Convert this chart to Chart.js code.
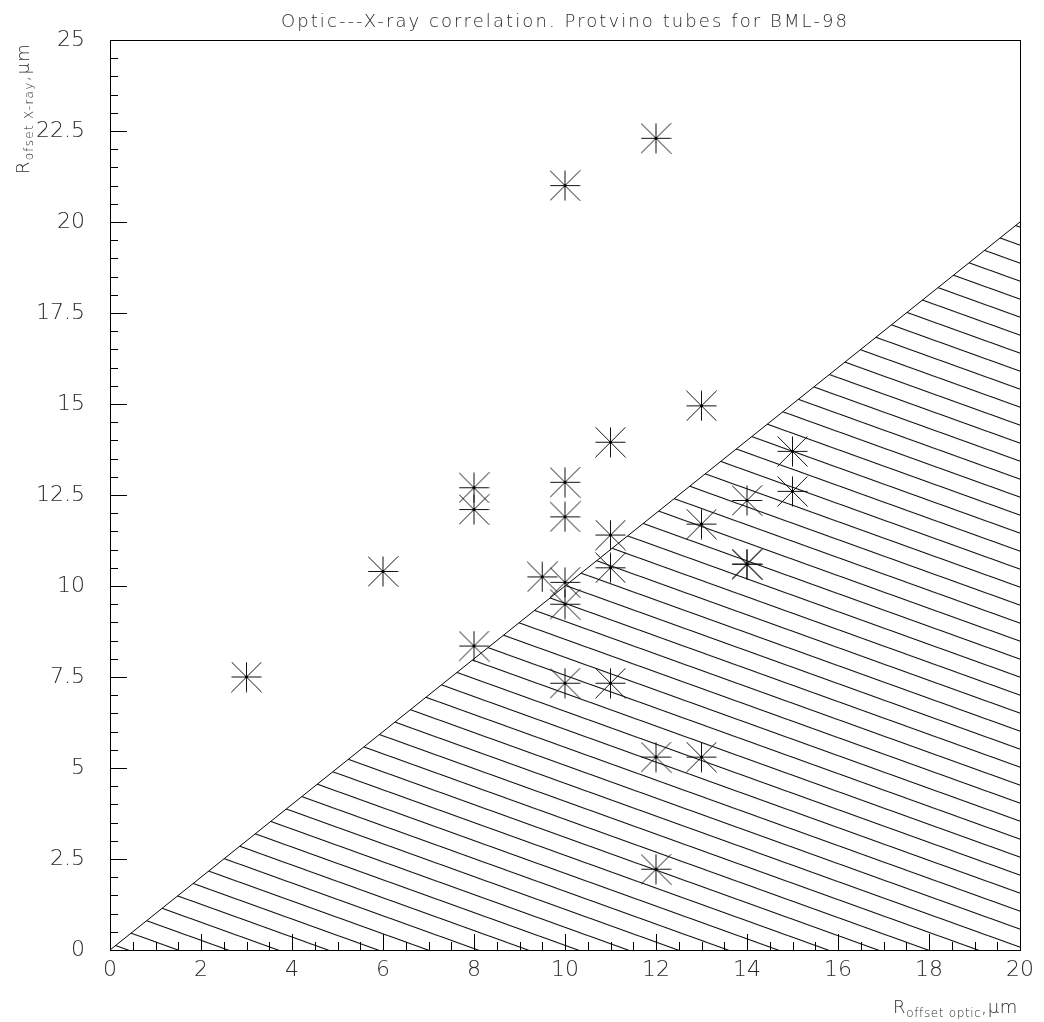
<!DOCTYPE html>
<html>
<head>
<meta charset="utf-8">
<script src="https://cdn.jsdelivr.net/npm/chart.js@4.4.1/dist/chart.umd.min.js"></script>
<style>
  html, body { margin: 0; padding: 0; background: #fff; }
  #wrap { width: 1044px; height: 1022px; position: relative; }
</style>
</head>
<body>
<div id="wrap"><canvas id="chart"></canvas></div>
<script>
const TITLE = "Optic---X-ray correlation. Protvino tubes for BML-98";
const X_TITLE = ["R", "offset optic", ",μm"];
const Y_TITLE = ["R", "ofset X-ray", ",μm"];

const opticOffset = [3, 6, 8, 8, 8, 9.5, 10, 10, 10, 10, 10, 10, 11, 11, 11, 11, 12, 12, 12, 13, 13, 13, 14, 14, 14, 15, 15];
const xrayOffset = [7.5, 10.4, 12.7, 12.1, 8.35, 10.25, 21, 12.85, 11.9, 10.1, 9.5, 7.33, 13.95, 11.4, 10.5, 7.33, 22.3, 5.3, 2.22, 14.95, 11.7, 5.3, 12.35, 10.6, 10.6, 13.7, 12.6];

const boundaryX = [0, 20];
const boundaryY = [0, 20];

const X_RANGE = [0, 20];
const Y_RANGE = [0, 25];
const X_STEP = 2;
const Y_STEP = 2.5;

const FONT = '"DejaVu Sans"';
const TEXT_COLOR = "#2a2a2a";

function makeMarker() {
  const c = document.createElement("canvas");
  c.width = 31;
  c.height = 31;
  const g = c.getContext("2d");
  g.strokeStyle = "#111";
  g.lineWidth = 1;
  g.beginPath();
  g.moveTo(0.5, 15.5); g.lineTo(30.5, 15.5);
  g.moveTo(15.5, 0.5); g.lineTo(15.5, 30.5);
  g.moveTo(0.5, 0.5); g.lineTo(30.5, 30.5);
  g.moveTo(30.5, 0.5); g.lineTo(0.5, 30.5);
  g.stroke();
  g.fillStyle = "#000";
  g.fillRect(14, 14, 3, 3);
  return c;
}

// hatch: 50px apart horizontally, 18px apart vertically
function makeHatch() {
  const W = 50, H = 18;
  const tile = document.createElement("canvas");
  tile.width = W;
  tile.height = H;
  const g = tile.getContext("2d");
  g.strokeStyle = "#000";
  g.lineWidth = 1.1;
  g.beginPath();
  for (let j = -2; j <= 2; j++) {
    g.moveTo(-20, -20 * H / W + H * j);
    g.lineTo(W + 20, (W + 20) * H / W + H * j);
  }
  g.stroke();
  const pattern = document.createElement("canvas").getContext("2d").createPattern(tile, "repeat");
  pattern.setTransform(new DOMMatrix([1, 0, 0, 1, 39.1, 0]));
  return pattern;
}

const frameAndText = {
  id: "frameAndText",
  afterDraw(chart) {
    const { ctx, chartArea: a, scales } = chart;
    const xs = scales.x;
    const ys = scales.y;
    ctx.save();
    ctx.strokeStyle = "#000";
    ctx.lineWidth = 1;
    ctx.strokeRect(Math.round(a.left) + 0.5, Math.round(a.top) + 0.5,
      Math.round(a.right - a.left), Math.round(a.bottom - a.top));

    // inward tick marks
    ctx.beginPath();
    for (let v = X_RANGE[0]; v <= X_RANGE[1] + 1e-9; v += 0.5) {
      const px = Math.round(xs.getPixelForValue(v)) + 0.5;
      const len = Math.abs(v % X_STEP) < 1e-9 ? 16 : 8;
      ctx.moveTo(px, a.bottom);
      ctx.lineTo(px, a.bottom - len);
    }
    for (let v = Y_RANGE[0]; v <= Y_RANGE[1] + 1e-9; v += 0.5) {
      const py = Math.round(ys.getPixelForValue(v)) + 0.5;
      const len = Math.abs(v % Y_STEP) < 1e-9 ? 17 : 8;
      ctx.moveTo(a.left, py);
      ctx.lineTo(a.left + len, py);
    }
    ctx.stroke();

    // title
    ctx.fillStyle = TEXT_COLOR;
    ctx.font = "200 18px " + FONT;
    ctx.textAlign = "center";
    ctx.textBaseline = "alphabetic";
    ctx.letterSpacing = "0px";
    const tw = ctx.measureText(TITLE).width;
    ctx.letterSpacing = Math.max(0, (566 - tw) / (TITLE.length - 1)) + "px";
    ctx.fillText(TITLE, (a.left + a.right) / 2, 27);
    ctx.letterSpacing = "0px";

    // axis titles with subscripts, stretched to the given width
    function drawSub(parts, x, y, width, align) {
      const big = "200 18px " + FONT;
      const small = "200 12px " + FONT;
      ctx.letterSpacing = "0px";
      ctx.font = big;
      const w0 = ctx.measureText(parts[0]).width;
      const w2 = ctx.measureText(parts[2]).width;
      ctx.font = small;
      const w1 = ctx.measureText(parts[1]).width;
      const n = parts.join("").length;
      const sp = Math.max(0, (width - (w0 + w1 + w2)) / n);
      ctx.letterSpacing = sp + "px";
      let sx = align === "right" ? x - width : x;
      ctx.textAlign = "left";
      ctx.font = big;
      ctx.fillText(parts[0], sx, y);
      sx += w0 + sp * parts[0].length;
      ctx.font = small;
      ctx.fillText(parts[1], sx, y + 4);
      sx += w1 + sp * parts[1].length;
      ctx.font = big;
      ctx.fillText(parts[2], sx, y);
      ctx.letterSpacing = "0px";
    }
    drawSub(X_TITLE, a.right - 2, 1013, 125, "right");
    ctx.save();
    ctx.translate(29, 174);
    ctx.rotate(-Math.PI / 2);
    drawSub(Y_TITLE, 0, 0, 131, "left");
    ctx.restore();
    ctx.restore();
  }
};

new Chart(document.getElementById("chart"), {
  data: {
    datasets: [
      {
        type: "scatter",
        data: opticOffset.map((x, i) => ({ x, y: xrayOffset[i] })),
        pointStyle: makeMarker(),
        pointRadius: 15,
        showLine: false
      },
      {
        type: "line",
        data: boundaryX.map((x, i) => ({ x, y: boundaryY[i] })),
        borderColor: "#000",
        borderWidth: 1,
        pointRadius: 0,
        fill: "start",
        backgroundColor: makeHatch()
      }
    ]
  },
  options: {
    responsive: true,
    maintainAspectRatio: false,
    animation: false,
    layout: { padding: { top: 40, right: 24, left: 0, bottom: 0 } },
    plugins: {
      legend: { display: false },
      tooltip: { enabled: false }
    },
    scales: {
      x: {
        type: "linear",
        min: X_RANGE[0],
        max: X_RANGE[1],
        grid: { display: false, drawTicks: false },
        border: { display: false },
        ticks: {
          stepSize: X_STEP,
          padding: 7,
          color: TEXT_COLOR,
          font: { family: "DejaVu Sans", size: 22, weight: 200 },
          maxRotation: 0
        },
        afterFit(scale) { scale.height = 72; }
      },
      y: {
        type: "linear",
        min: Y_RANGE[0],
        max: Y_RANGE[1],
        grid: { display: false, drawTicks: false },
        border: { display: false },
        ticks: {
          stepSize: Y_STEP,
          padding: 25,
          color: TEXT_COLOR,
          font: { family: "DejaVu Sans", size: 22, weight: 200 }
        },
        afterFit(scale) { scale.width = 110; }
      }
    }
  },
  plugins: [frameAndText]
});
</script>
</body>
</html>
